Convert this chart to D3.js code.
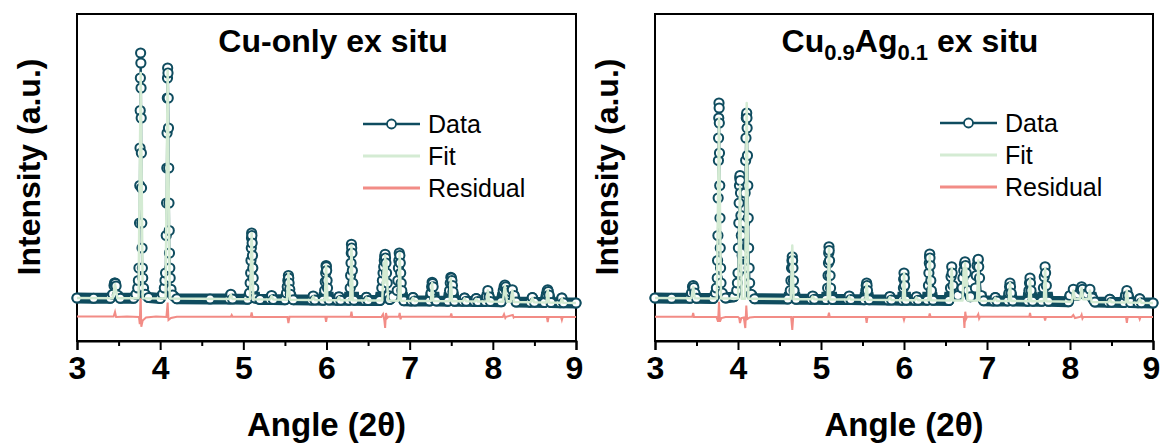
<!DOCTYPE html>
<html>
<head>
<meta charset="utf-8">
<script src="https://cdn.jsdelivr.net/npm/d3@7"></script>
<style>
   body { margin: 0; background: #fff; }
   text { font-family: "Liberation Sans", Arial, sans-serif; }
</style>
</head>
<body>
<div class="chart"></div>
<script>
// x ticks (2theta)
const xTicks = [3, 4, 5, 6, 7, 8, 9];
const xMinor = [3.5, 4.5, 5.5, 6.5, 7.5, 8.5];
const legendLabels = ["Data", "Fit", "Residual"];

// Cu-only ex situ: observed, fit and residual [angle, intensity]
const cuObs = [
   [3.00, 0], [3.20, -0.1], [3.40, -0.1], [3.43, 1.5], [3.445, 5], [3.452, 6], [3.457, 6], [3.463, 5.8], [3.47, 4.8],
   [3.485, 1.2], [3.52, -0.1],
   [3.68, -0.1], [3.71, 1.5], [3.73, 4], [3.738, 7], [3.745, 12], [3.752, 30], [3.755, 45], [3.758, 60], [3.760, 75],
   [3.762, 88], [3.765, 98], [3.768, 94], [3.770, 84], [3.772, 72], [3.774, 58], [3.776, 44], [3.779, 30], [3.782, 20],
   [3.786, 12], [3.79, 8], [3.80, 4], [3.82, 1.5], [3.86, 0.2],
   [4.00, -0.2], [4.03, 1.5], [4.05, 4], [4.058, 7], [4.065, 10], [4.073, 25], [4.077, 38], [4.08, 52], [4.083, 66],
   [4.086, 80], [4.088, 88], [4.09, 92], [4.094, 90], [4.097, 80], [4.10, 68], [4.103, 52], [4.106, 38], [4.109, 27],
   [4.112, 18], [4.116, 12], [4.12, 8], [4.13, 3.5], [4.15, 1.2], [4.20, -0.3],
   [4.60, -0.4], [4.83, -0.4], [4.85, 1.5], [4.87, -0.4],
   [5.05, -0.5], [5.075, 2], [5.082, 6], [5.088, 10], [5.092, 15], [5.096, 20], [5.098, 24], [5.10, 26], [5.103, 25],
   [5.106, 22], [5.11, 17], [5.114, 12], [5.118, 8], [5.125, 4], [5.14, 0], [5.20, -0.6],
   [5.32, -0.6], [5.34, 1], [5.36, -0.6],
   [5.50, -0.7], [5.52, 2], [5.528, 4.5], [5.535, 7], [5.542, 9], [5.546, 8], [5.55, 6], [5.558, 3.5], [5.565, 1.5], [5.60, -0.7],
   [5.82, -0.8], [5.84, 0.8], [5.86, -0.8],
   [5.96, -0.9], [5.978, 3], [5.985, 6.5], [5.99, 10], [5.995, 13], [5.998, 12.5], [6.002, 11], [6.007, 7], [6.012, 4], [6.03, -0.8],
   [6.13, -0.9], [6.15, 0.5], [6.17, -0.9],
   [6.27, -0.9], [6.285, 4], [6.29, 9], [6.295, 14], [6.298, 18], [6.30, 21.5], [6.303, 20], [6.306, 18], [6.311, 11],
   [6.316, 6], [6.33, -0.9],
   [6.46, -1], [6.48, 0.3], [6.50, -1],
   [6.64, -1], [6.665, 4], [6.672, 7], [6.68, 10], [6.688, 12.5], [6.695, 15], [6.70, 16.5], [6.705, 17.5], [6.71, 16],
   [6.715, 14], [6.722, 10], [6.73, 6], [6.745, 1], [6.76, -0.6],
   [6.80, 0.5], [6.85, 3], [6.858, 7], [6.865, 12], [6.87, 15], [6.875, 18], [6.882, 17], [6.887, 14], [6.892, 10],
   [6.898, 6], [6.905, 3], [6.93, -1.1],
   [7.02, -1.2], [7.04, 0.2], [7.06, -1.2],
   [7.24, -1.2], [7.258, 2], [7.264, 4.5], [7.27, 6.3], [7.276, 5.8], [7.282, 4.5], [7.30, -0.5], [7.32, -1.2],
   [7.46, -1.3], [7.48, 3], [7.488, 6], [7.495, 8.3], [7.502, 8], [7.508, 7], [7.514, 5], [7.52, 2.5], [7.54, -1.3],
   [7.64, -1.3], [7.66, 0], [7.68, -1.3],
   [7.78, -1.4], [7.80, -0.2], [7.82, -1.4],
   [7.91, -1.4], [7.925, 0.5], [7.94, 3], [7.955, 0.5], [7.97, -1.4],
   [8.10, -1.5], [8.125, 3], [8.135, 4.5], [8.145, 5.2], [8.155, 4.5], [8.165, 3], [8.19, 1.5], [8.21, 2.5], [8.235, 3.3],
   [8.255, 1], [8.28, -1.6],
   [8.45, -1.7], [8.475, 0.2], [8.50, -1.7],
   [8.62, -1.8], [8.645, 1.5], [8.653, 2.8], [8.66, 3.3], [8.667, 2.6], [8.675, 1.2], [8.70, -1.8],
   [8.81, -1.9], [8.83, 0], [8.85, -1.9], [9.00, -2]
];
const cuFit = [
   [3.00, 0], [3.43, -0.1], [3.457, 5.5], [3.485, -0.1], [3.74, -0.1], [3.766, 90], [3.79, -0.1],
   [4.065, -0.2], [4.09, 91], [4.115, -0.2], [4.83, -0.4], [4.85, 1.3], [4.87, -0.4],
   [5.08, -0.5], [5.10, 26], [5.12, -0.5], [5.32, -0.6], [5.34, 0.8], [5.36, -0.6],
   [5.525, -0.7], [5.542, 10], [5.56, -0.7], [5.82, -0.8], [5.84, 0.6], [5.86, -0.8],
   [5.98, -0.9], [5.995, 13], [6.012, -0.9], [6.13, -0.9], [6.15, 0.4], [6.17, -0.9],
   [6.285, -0.9], [6.30, 21], [6.315, -0.9], [6.46, -1], [6.48, 0.2], [6.50, -1],
   [6.67, -1], [6.69, 14], [6.698, 6], [6.705, 17], [6.712, 7], [6.72, 15], [6.74, -1],
   [6.865, -1.1], [6.88, 18], [6.895, -1.1], [7.02, -1.2], [7.04, 0.1], [7.06, -1.2],
   [7.255, -1.2], [7.27, 6], [7.285, -1.2], [7.48, -1.3], [7.495, 8], [7.51, -1.3],
   [7.64, -1.3], [7.66, -0.1], [7.68, -1.3], [7.78, -1.4], [7.80, -0.3], [7.82, -1.4],
   [7.925, -1.4], [7.94, 3], [7.955, -1.4], [8.12, -1.5], [8.145, 5], [8.17, -1.5],
   [8.215, -1.5], [8.235, 3], [8.255, -1.6], [8.455, -1.7], [8.475, 0.1], [8.495, -1.7],
   [8.645, -1.8], [8.66, 3.3], [8.675, -1.8], [8.815, -1.9], [8.83, -0.1], [8.845, -1.9], [9.00, -2]
];
const cuRes = [
   [3.00, -7.4], [3.44, -7.4], [3.457, -5.6], [3.47, -7.6], [3.60, -7.4], [3.745, -7.6], [3.755, -10.5],
   [3.765, 2], [3.773, -11.5], [3.79, -9], [3.83, -7.8], [3.95, -7.4], [4.075, -7.6], [4.09, -1.8],
   [4.10, -8.8], [4.13, -8], [4.20, -7.5], [4.85, -7.5], [4.86, -6.8], [4.87, -7.5], [5.09, -7.5],
   [5.10, -5.8], [5.11, -7.6], [5.53, -7.6], [5.542, -10], [5.555, -7.5], [5.985, -7.5], [5.995, -9.5],
   [6.005, -7.5], [6.29, -7.5], [6.30, -5.5], [6.31, -7.6], [6.66, -7.6], [6.68, -6.5], [6.695, -8.8],
   [6.705, -12], [6.715, -6], [6.73, -8], [6.745, -7.5], [6.87, -7.5], [6.88, -6], [6.89, -8.5],
   [6.90, -7.5], [7.49, -7.5], [7.50, -6.2], [7.51, -7.6], [8.12, -7.6], [8.135, -6.5], [8.15, -8],
   [8.16, -7.5], [8.24, -6.8], [8.25, -7.8], [8.26, -7.5], [8.65, -7.6], [8.66, -9.6], [8.67, -7.6],
   [8.82, -7.6], [8.83, -8.8], [8.84, -7.6], [9.00, -7.6]
];

// Cu0.9Ag0.1 ex situ
const agObs = [
   [3.00, 0], [3.20, -0.1], [3.42, -0.1], [3.44, 2], [3.452, 4.5], [3.46, 5], [3.468, 4.2], [3.48, 2], [3.50, -0.1],
   [3.70, -0.2], [3.73, 2], [3.74, 4], [3.75, 8], [3.754, 15], [3.758, 25], [3.761, 40], [3.764, 55], [3.766, 64],
   [3.768, 72], [3.771, 78], [3.773, 76], [3.775, 70], [3.777, 58], [3.78, 45], [3.783, 32], [3.786, 20], [3.79, 12],
   [3.795, 6], [3.81, 2], [3.85, 0],
   [3.95, 0.5], [3.985, 3], [3.993, 6], [4.00, 10], [4.005, 20], [4.01, 30], [4.014, 38], [4.018, 45], [4.021, 48],
   [4.024, 49], [4.027, 47], [4.03, 42], [4.035, 33], [4.04, 25], [4.05, 17],
   [4.06, 12], [4.07, 18], [4.08, 30], [4.086, 42], [4.092, 55], [4.096, 64], [4.10, 72], [4.102, 73], [4.105, 74],
   [4.108, 72], [4.11, 68], [4.114, 57], [4.118, 45], [4.123, 32], [4.128, 20], [4.134, 12], [4.14, 6], [4.16, 1.5], [4.20, -0.3],
   [4.60, -0.4], [4.63, 3], [4.638, 7], [4.645, 12], [4.65, 15], [4.654, 16.5], [4.658, 15], [4.662, 12], [4.668, 7],
   [4.675, 3], [4.70, -0.5],
   [4.88, -0.5], [4.90, 0.8], [4.92, -0.5],
   [5.06, -0.6], [5.08, 4], [5.085, 9], [5.09, 14], [5.093, 18], [5.096, 20.5], [5.099, 19], [5.103, 15], [5.109, 9],
   [5.115, 4], [5.14, -0.6],
   [5.32, -0.6], [5.34, 0.8], [5.36, -0.6],
   [5.52, -0.7], [5.54, 3], [5.545, 5], [5.55, 6], [5.555, 5], [5.56, 3], [5.58, -0.7],
   [5.81, -0.8], [5.83, 0.6], [5.85, -0.8],
   [5.98, -0.9], [5.993, 4], [5.996, 7.5], [6.00, 10], [6.004, 8], [6.008, 5], [6.025, -0.9],
   [6.13, -0.9], [6.15, 0.5], [6.17, -0.9],
   [6.28, -0.9], [6.295, 5], [6.30, 10], [6.305, 14], [6.308, 16.5], [6.31, 17.6], [6.313, 16], [6.316, 13], [6.323, 7],
   [6.33, 3], [6.35, -0.9],
   [6.54, -1], [6.56, 4], [6.567, 8.5], [6.575, 12.5], [6.58, 10], [6.59, 5], [6.65, 1],
   [6.70, 4], [6.71, 8], [6.72, 11], [6.728, 13.5], [6.735, 14.5], [6.742, 13], [6.75, 10], [6.77, 3], [6.80, 0.5],
   [6.86, 4], [6.87, 9], [6.88, 13], [6.89, 15], [6.895, 15.5], [6.90, 12.5], [6.91, 8], [6.93, 1], [6.96, -1.1],
   [7.08, -1.2], [7.10, 0.2], [7.12, -1.2],
   [7.25, -1.2], [7.265, 2], [7.272, 4.5], [7.277, 6], [7.283, 4.5], [7.29, 2], [7.31, -1.2],
   [7.49, -1.3], [7.505, 3], [7.512, 6], [7.518, 8], [7.524, 6], [7.53, 3], [7.55, -1.3],
   [7.66, -1.3], [7.68, 4], [7.69, 8.5], [7.70, 12.5], [7.706, 10], [7.715, 5], [7.74, -1.3],
   [7.98, -1.5], [8.00, 1], [8.04, 3.5], [8.08, 1], [8.10, 1.5], [8.13, 3.5], [8.14, 4.5], [8.15, 3.5], [8.18, 1.5],
   [8.21, 1.5], [8.24, 3.5], [8.27, 0], [8.30, -1.6],
   [8.46, -1.7], [8.48, -0.5], [8.50, -1.7],
   [8.65, -1.8], [8.67, 1], [8.685, 3], [8.70, 1], [8.73, -1.8],
   [8.82, -1.9], [8.84, -0.3], [8.86, -1.9], [9.00, -2]
];
const agFit = [
   [3.00, 0], [3.44, -0.1], [3.46, 4.5], [3.48, -0.1], [3.745, -0.2], [3.771, 72], [3.795, -0.2],
   [4.00, -0.2], [4.024, 45], [4.045, -0.3], [4.085, -0.3], [4.105, 78], [4.125, -0.3],
   [4.635, -0.4], [4.654, 21], [4.67, -0.5], [4.88, -0.5], [4.90, 0.6], [4.92, -0.5],
   [5.08, -0.6], [5.096, 20], [5.11, -0.6], [5.32, -0.6], [5.34, 0.6], [5.36, -0.6],
   [5.535, -0.7], [5.55, 6], [5.565, -0.7], [5.81, -0.8], [5.83, 0.4], [5.85, -0.8],
   [5.985, -0.9], [6.00, 10], [6.015, -0.9], [6.13, -0.9], [6.15, 0.3], [6.17, -0.9],
   [6.295, -0.9], [6.31, 17], [6.325, -0.9], [6.56, -1], [6.575, 12], [6.59, -1],
   [6.705, -1], [6.72, 12], [6.728, 5], [6.735, 14], [6.742, 5], [6.75, 12], [6.765, -1],
   [6.88, -1.1], [6.895, 15], [6.91, -1.1], [7.08, -1.2], [7.10, 0.1], [7.12, -1.2],
   [7.262, -1.2], [7.277, 6], [7.292, -1.2], [7.503, -1.3], [7.518, 7.5], [7.533, -1.3],
   [7.685, -1.3], [7.70, 12], [7.715, -1.3], [8.02, -1.5], [8.04, 3], [8.06, -0.5],
   [8.12, -0.5], [8.14, 4], [8.16, -0.5], [8.22, -0.5], [8.24, 3], [8.26, -1.6],
   [8.46, -1.7], [8.48, -0.6], [8.50, -1.7], [8.67, -1.8], [8.685, 3], [8.70, -1.8],
   [8.82, -1.9], [8.84, -0.4], [8.86, -1.9], [9.00, -2]
];
const agRes = [
   [3.00, -7.5], [3.45, -7.5], [3.46, -6], [3.47, -7.6], [3.74, -7.6], [3.76, -9.5], [3.771, -1.5],
   [3.782, -9.5], [3.80, -8], [3.85, -7.6], [4.00, -7.6], [4.015, -8], [4.024, -10], [4.04, -8],
   [4.07, -7.8], [4.088, -12], [4.10, -3], [4.11, -8.5], [4.14, -7.8], [4.20, -7.6], [4.64, -7.6],
   [4.654, -12.8], [4.665, -7.6], [5.085, -7.6], [5.096, -5.9], [5.105, -7.6], [5.54, -7.6],
   [5.55, -9.9], [5.56, -7.6], [5.99, -7.6], [6.00, -8.8], [6.01, -7.6], [6.30, -7.6], [6.31, -6.2],
   [6.32, -7.6], [6.72, -7.6], [6.728, -12], [6.738, -5.5], [6.75, -8.2], [6.76, -7.5], [6.88, -7.5],
   [6.895, -6.5], [6.905, -8.2], [6.915, -7.5], [7.51, -7.5], [7.518, -6], [7.528, -7.6], [7.69, -7.6],
   [7.70, -9], [7.71, -7.6], [8.02, -7.6], [8.04, -6.8], [8.06, -8], [8.13, -7.5], [8.14, -6.7],
   [8.15, -8.2], [8.16, -7.6], [8.675, -7.6], [8.685, -9.9], [8.695, -7.6], [8.83, -7.6], [8.84, -8.5],
   [8.85, -7.6], [9.00, -7.6]
];

// colors
const dataColor = "#0f4c5f";
const fitColor = "#d4ebd3";
const resColor = "#f28c86";

// setup chart
const width = 1161;
const height = 446;
const svg = d3
   .select(".chart")
   .append("svg")
   .attr("width", width)
   .attr("height", height)
   .style("background", "#fff");

const frameTop = 14;
const frameBottom = 341;

function drawPanel(p) {
   const xScale = d3.scaleLinear().domain([3, 9]).range([p.left, p.right]);
   const yScale = d3.scaleLinear().domain([-17.2, 113.6]).range([frameBottom, frameTop]);
   const g = svg.append("g");

   // frame
   g.append("rect")
      .attr("x", p.left)
      .attr("y", frameTop)
      .attr("width", p.right - p.left)
      .attr("height", frameBottom - frameTop)
      .attr("fill", "none")
      .attr("stroke", "#000")
      .attr("stroke-width", 2);

   // x axis, major and minor ticks
   const xAxis = g
      .append("g")
      .attr("transform", `translate(0, ${frameBottom})`)
      .call(d3.axisBottom(xScale).tickValues(xTicks).tickSize(9).tickPadding(6).tickFormat(d3.format("d")));
   xAxis.select(".domain").attr("stroke-width", 2);
   xAxis.selectAll(".tick line").attr("stroke-width", 2);
   xAxis
      .selectAll(".tick text")
      .attr("font-size", 32)
      .attr("font-weight", "bold")
      .attr("font-family", "Liberation Sans, Arial, sans-serif")
      .attr("fill", "#000")
      .attr("dx", (d) => (d === 9 ? -2 : 0));
   g.append("g")
      .attr("transform", `translate(0, ${frameBottom})`)
      .call(d3.axisBottom(xScale).tickValues(xMinor).tickSize(5).tickFormat(""))
      .call((a) => a.select(".domain").remove())
      .selectAll(".tick line")
      .attr("stroke-width", 2);

   // axis titles
   g.append("text")
      .attr("x", (p.left + p.right) / 2)
      .attr("y", 436)
      .attr("text-anchor", "middle")
      .attr("font-size", 33)
      .attr("font-weight", "bold")
      .text("Angle (2θ)");
   g.append("text")
      .attr("transform", `translate(${p.left - 48}, 167) rotate(-90)`)
      .attr("text-anchor", "middle")
      .attr("dominant-baseline", "central")
      .attr("font-size", 32)
      .attr("font-weight", "bold")
      .text("Intensity (a.u.)");

   const line = d3
      .line()
      .x((d) => xScale(d[0]))
      .y((d) => yScale(d[1]));

   // residual
   g.append("path")
      .attr("d", line(p.res))
      .attr("fill", "none")
      .attr("stroke", resColor)
      .attr("stroke-width", 2);

   // observed data: dense circles make a thick band near the baseline
   const clipId = `band-${p.id}`;
   g.append("clipPath")
      .attr("id", clipId)
      .append("rect")
      .attr("x", p.left - 10)
      .attr("y", yScale(2.5))
      .attr("width", p.right - p.left + 20)
      .attr("height", frameBottom - yScale(2.5));
   g.append("path")
      .attr("d", line(p.obs))
      .attr("clip-path", `url(#${clipId})`)
      .attr("fill", "none")
      .attr("stroke", dataColor)
      .attr("stroke-width", 11)
      .attr("stroke-linejoin", "round")
      .attr("stroke-linecap", "round");
   g.append("path")
      .attr("d", line(p.obs))
      .attr("fill", "none")
      .attr("stroke", dataColor)
      .attr("stroke-width", 2);
   g.selectAll(".pt")
      .data(p.obs)
      .enter()
      .append("circle")
      .attr("cx", (d) => xScale(d[0]))
      .attr("cy", (d) => yScale(d[1]))
      .attr("r", 4.6)
      .attr("fill", "#fff")
      .attr("stroke", dataColor)
      .attr("stroke-width", 2);

   // fit
   g.append("path")
      .attr("d", line(p.fit))
      .attr("fill", "none")
      .attr("stroke", fitColor)
      .attr("stroke-width", 2.5)
      .attr("stroke-linejoin", "round");

   // title
   const title = g
      .append("text")
      .attr("x", p.titleX)
      .attr("y", 52)
      .attr("text-anchor", "middle")
      .attr("font-size", 32)
      .attr("font-weight", "bold");
   p.title.forEach((t) => {
      const span = title.append("tspan").text(t.s);
      if (t.sub) span.attr("font-size", 22).attr("dy", 8);
      else if (t.back) span.attr("dy", -8);
   });

   // legend
   const legend = g.append("g").attr("transform", `translate(${p.legendX}, ${p.legendY})`);
   const colors = [dataColor, fitColor, resColor];
   legendLabels.forEach((label, i) => {
      const y = i * 32;
      legend
         .append("line")
         .attr("x1", 0)
         .attr("x2", 57)
         .attr("y1", y)
         .attr("y2", y)
         .attr("stroke", colors[i])
         .attr("stroke-width", i === 0 ? 2.5 : 3);
      if (i === 0) {
         legend
            .append("circle")
            .attr("cx", 28.5)
            .attr("cy", y)
            .attr("r", 4.5)
            .attr("fill", "#fff")
            .attr("stroke", dataColor)
            .attr("stroke-width", 1.8);
      }
      legend
         .append("text")
         .attr("x", 65)
         .attr("y", y)
         .attr("dominant-baseline", "central")
         .attr("font-size", 25)
         .text(label);
   });
}

drawPanel({
   id: "cu",
   left: 77,
   right: 576,
   obs: cuObs,
   fit: cuFit,
   res: cuRes,
   titleX: 333,
   title: [{ s: "Cu-only ex situ" }],
   legendX: 363,
   legendY: 124
});

drawPanel({
   id: "ag",
   left: 655,
   right: 1153,
   obs: agObs,
   fit: agFit,
   res: agRes,
   titleX: 910,
   title: [
      { s: "Cu" },
      { s: "0.9", sub: true },
      { s: "Ag", back: true },
      { s: "0.1", sub: true },
      { s: " ex situ", back: true }
   ],
   legendX: 940,
   legendY: 123
});
</script>
</body>
</html>
